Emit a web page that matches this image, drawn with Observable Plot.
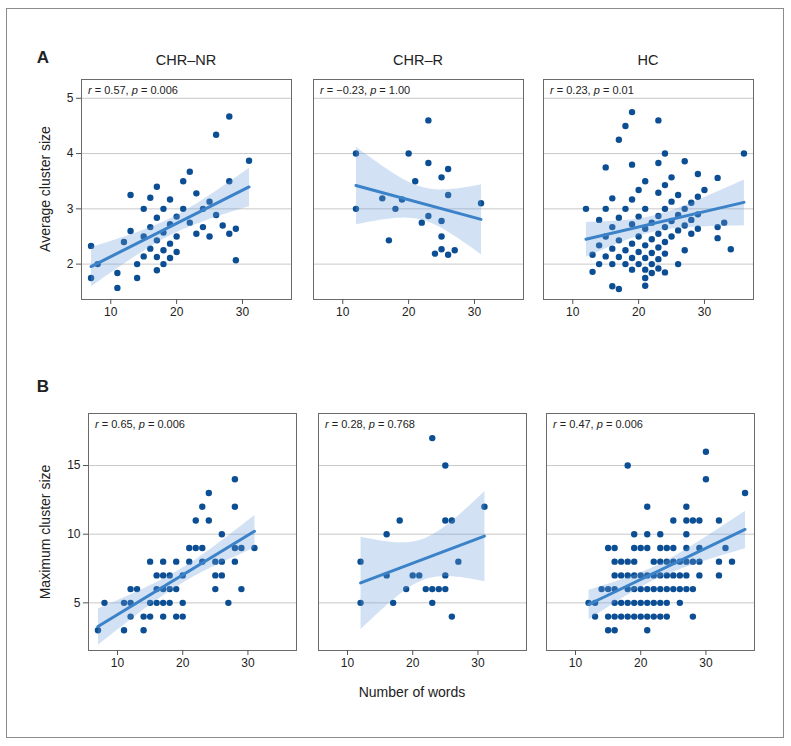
<!DOCTYPE html>
<html><head><meta charset="utf-8">
<script src="https://cdn.jsdelivr.net/npm/d3@7"></script>
<script src="https://cdn.jsdelivr.net/npm/@observablehq/plot@0.6"></script>
<style>
body{margin:0;background:#fff;}
#fig{position:relative;width:791px;height:746px;font-family:"Liberation Sans",Arial,Helvetica,sans-serif;color:#222;overflow:hidden;}
.abs{position:absolute;white-space:nowrap;}
.ctr{transform:translate(-50%,-50%);}
#border{position:absolute;left:6px;top:8px;width:778px;height:730px;border:1px solid #8c8c8c;box-sizing:border-box;}
.ttl{font-size:14.5px;}
.ann{font-size:11px;line-height:13px;color:#222;}
</style></head><body><div id="fig"><div id="border"></div></div>
<script>
// ---- data ----
const groups = ["CHR–NR", "CHR–R", "HC"];
const rowLabels = ["A", "B"];
const yTitles = ["Average cluster size", "Maximum cluster size"];
const xTitle = "Number of words";
const xTicks = [10, 20, 30];
const yTicksA = [2, 3, 4, 5];
const yTicksB = [5, 10, 15];
const rA = ["0.57", "−0.23", "0.23"];
const pA = ["0.006", "1.00", "0.01"];
const rB = ["0.65", "0.28", "0.47"];
const pB = ["0.006", "0.768", "0.006"];

const avgCHRNR = [[7,2.33],[7,1.75],[8,2.0],[11,1.84],[11,1.57],[12,2.40],[13,3.25],[13,2.60],[14,2.0],[14,1.75],[15,3.0],[15,2.5],[15,2.14],[16,3.2],[16,2.67],[16,2.28],[17,3.4],[17,2.84],[17,2.43],[17,2.13],[17,1.89],[18,3.0],[18,2.57],[18,2.25],[18,2.0],[19,3.17],[19,2.72],[19,2.37],[19,2.11],[20,2.86],[20,2.5],[20,2.22],[21,3.5],[21,3.0],[22,3.67],[22,2.75],[23,3.28],[23,2.55],[24,3.0],[24,2.67],[25,3.13],[25,2.5],[26,4.34],[26,2.89],[27,2.7],[28,4.67],[28,3.5],[28,2.55],[29,2.64],[29,2.07],[31,3.87]];
const avgCHRR = [[12,4.0],[12,3.0],[16,3.19],[17,2.43],[18,3.0],[19,3.17],[20,4.0],[21,3.5],[22,2.75],[23,4.6],[23,3.83],[23,2.87],[24,2.19],[25,3.57],[25,2.78],[25,2.5],[25,2.27],[26,3.72],[26,3.25],[26,2.17],[27,2.25],[31,3.1]];
const avgHC = [[12,3.0],[13,2.17],[13,1.86],[14,2.8],[14,2.34],[14,2.0],[15,3.75],[15,3.0],[15,2.5],[15,2.14],[16,3.19],[16,2.67],[16,2.28],[16,2.0],[16,1.6],[17,4.25],[17,2.84],[17,2.43],[17,2.13],[17,1.55],[18,4.5],[18,3.0],[18,2.25],[18,2.0],[19,4.75],[19,3.8],[19,3.17],[19,2.72],[19,2.37],[19,2.11],[19,1.9],[20,3.34],[20,2.86],[20,2.5],[20,2.22],[20,2.0],[21,3.5],[21,3.0],[21,2.64],[21,2.34],[21,2.11],[21,1.9],[21,1.75],[21,1.61],[22,2.75],[22,2.45],[22,2.2],[22,2.0],[22,1.84],[23,4.6],[23,3.83],[23,3.29],[23,2.87],[23,2.55],[23,2.3],[23,2.09],[23,1.92],[24,4.0],[24,3.43],[24,3.0],[24,2.67],[24,2.4],[24,2.19],[24,1.85],[25,3.57],[25,3.13],[25,2.78],[25,2.5],[26,3.25],[26,2.89],[26,2.61],[26,2.0],[27,3.86],[27,3.0],[27,2.7],[27,2.25],[28,3.11],[28,2.8],[28,2.55],[29,3.63],[29,3.22],[29,2.9],[29,2.64],[30,3.34],[32,3.56],[32,2.67],[32,2.47],[33,2.75],[34,2.27],[36,4.0]];

const maxCHRNR = [[28,14],[24,13],[23,12],[28,12],[22,11],[24,11],[26,10],[21,9],[22,9],[23,9],[28,9],[29,9],[31,9],[15,8],[17,8],[19,8],[21,8],[23,8],[25,8],[26,8],[28,8],[16,7],[17,7],[18,7],[20,7],[25,7],[26,7],[12,6],[13,6],[16,6],[17,6],[18,6],[19,6],[25,6],[29,6],[8,5],[11,5],[12,5],[15,5],[16,5],[17,5],[18,5],[20,5],[27,5],[12,4],[14,4],[15,4],[17,4],[19,4],[20,4],[7,3],[11,3],[14,3]];
const maxCHRR = [[23,17],[25,15],[31,12],[18,11],[25,11],[26,11],[16,10],[12,8],[27,8],[16,7],[20,7],[21,7],[25,7],[19,6],[22,6],[23,6],[24,6],[25,6],[12,5],[17,5],[23,5],[26,4]];
const maxHC = [[30,16],[18,15],[30,14],[36,13],[21,12],[27,12],[25,11],[27,11],[28,11],[29,11],[32,11],[19,10],[21,10],[23,10],[27,10],[15,9],[16,9],[19,9],[20,9],[21,9],[23,9],[24,9],[25,9],[27,9],[29,9],[33,9],[16,8],[17,8],[18,8],[19,8],[22,8],[23,8],[24,8],[25,8],[26,8],[27,8],[28,8],[29,8],[32,8],[34,8],[16,7],[17,7],[18,7],[19,7],[20,7],[21,7],[22,7],[23,7],[24,7],[25,7],[26,7],[27,7],[29,7],[32,7],[14,6],[15,6],[16,6],[18,6],[19,6],[20,6],[21,6],[22,6],[23,6],[24,6],[25,6],[26,6],[27,6],[28,6],[12,5],[13,5],[16,5],[17,5],[18,5],[19,5],[20,5],[21,5],[22,5],[23,5],[24,5],[26,5],[13,4],[15,4],[16,4],[17,4],[18,4],[19,4],[20,4],[21,4],[22,4],[23,4],[24,4],[28,4],[15,3],[16,3],[21,3]];

// ---- layout ----
const xDomain = [5.55, 37.45];
const rows = [
  {data:[avgCHRNR, avgCHRR, avgHC], yDomain:[1.36, 5.34], yTicks:yTicksA, r:rA, p:pA, top:79, h:220, lefts:[81,313,543], w:210},
  {data:[maxCHRNR, maxCHRR, maxHC], yDomain:[1.53, 18.79], yTicks:yTicksB, r:rB, p:pB, top:413, h:237, lefts:[88,318,546], w:208}
];
const fig = document.getElementById("fig");
function addDiv(html, cls, left, top, extra) {
  const d = document.createElement("div");
  d.className = "abs " + cls;
  d.style.left = left + "px"; d.style.top = top + "px";
  if (extra) Object.assign(d.style, extra);
  d.innerHTML = html;
  fig.appendChild(d);
  return d;
}
const mL = 40, mR = 3, mT = 3, mB = 30;
const dotColor = "#0c4e93", lineColor = "#3b82c8", bandColor = "#6b9fdc";

rows.forEach((row, ri) => {
  row.data.forEach((data, ci) => {
    const left = row.lefts[ci];
    const plot = Plot.plot({
      width: mL + row.w + mR, height: mT + row.h + mB,
      marginLeft: mL, marginRight: mR, marginTop: mT, marginBottom: mB,
      x: {domain: xDomain, axis: null},
      y: {domain: row.yDomain, axis: null},
      style: {fontFamily: "'Liberation Sans', Arial, sans-serif", fontSize: "12px", color: "#222", background: "transparent", overflow: "visible"},
      marks: [
        Plot.ruleY(row.yTicks, {stroke: "#c9c9c9", strokeWidth: 1}),
        Plot.dot(data, {x: d => d[0], y: d => d[1], r: 3.2, fill: dotColor, stroke: null}),
        Plot.linearRegressionY(data, {x: d => d[0], y: d => d[1], stroke: lineColor, strokeWidth: 3, fill: bandColor, fillOpacity: 0.3}),
        Plot.frame({stroke: "#6a6a6a", strokeWidth: 1}),
        Plot.axisX({ticks: xTicks, tickFormat: d => String(d), tickSize: 5, tickPadding: 3, label: null, stroke: "#555", fill: "#222", fontSize: 12}),
        ci === 0 ? Plot.axisY({ticks: row.yTicks, tickFormat: d => String(d), tickSize: 5, tickPadding: 3, label: null, stroke: "#555", fill: "#222", fontSize: 12}) : null
      ]
    });
    const holder = addDiv("", "", left - mL, row.top - mT);
    holder.appendChild(plot);
    addDiv(`<i>r</i> = ${row.r[ci]}, <i>p</i> = ${row.p[ci]}`, "ann", left + 7, row.top + 4.5);
    if (ri === 0) addDiv(groups[ci], "ttl ctr", left + row.w / 2, 60);
  });
  addDiv(rowLabels[ri], "ctr", 43, ri === 0 ? 58 : 387, {fontWeight: "bold", fontSize: "17px"});
  addDiv(yTitles[ri], "", 45, row.top + row.h / 2, {fontSize: "14px", transform: "translate(-50%,-50%) rotate(-90deg)"});
});
addDiv(xTitle, "ctr", 412, 692, {fontSize: "14px"});
</script></body></html>
